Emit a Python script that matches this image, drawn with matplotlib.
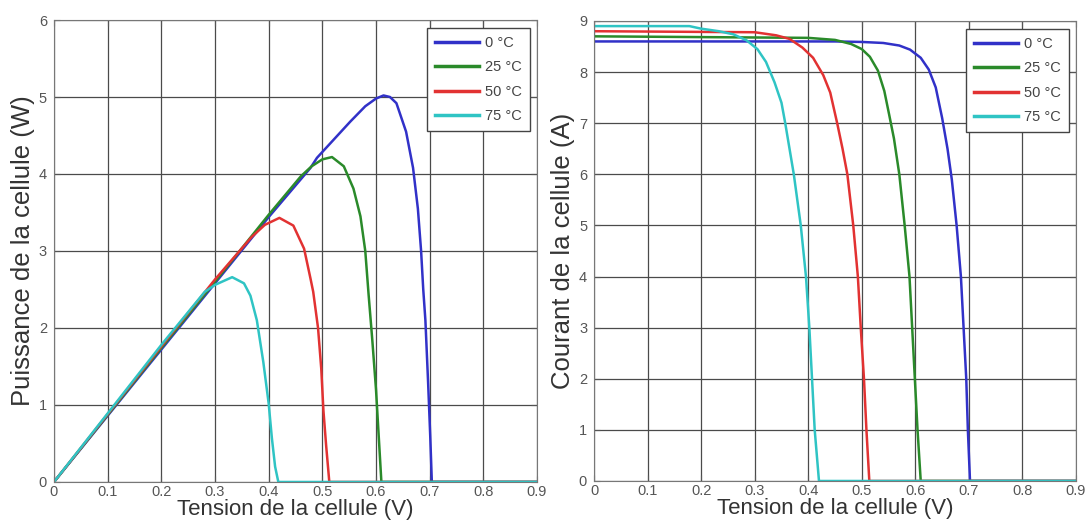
import matplotlib
matplotlib.use('Agg')
import matplotlib.pyplot as plt

plt.rcParams['font.family'] = ['Liberation Sans', 'DejaVu Sans']

# Légende / couleurs
temperatures = ['0 °C', '25 °C', '50 °C', '75 °C']
couleurs = ['#3131c8', '#2a8a2a', '#e23232', '#2fc4c4']

v_p_0 = [0, 0.1, 0.2, 0.3, 0.4, 0.478, 0.49, 0.552, 0.58, 0.6, 0.614, 0.626, 0.638,
         0.656, 0.669, 0.678, 0.684, 0.688, 0.692, 0.697, 0.701, 0.704, 0.9]
p_0 = [0, 0.86, 1.72, 2.58, 3.44, 4.08, 4.21, 4.68, 4.88, 4.98, 5.02, 5.0, 4.92,
       4.55, 4.08, 3.55, 3.0, 2.5, 2.1, 1.3, 0.6, 0, 0]

v_p_25 = [0, 0.1, 0.2, 0.3, 0.4, 0.46, 0.48, 0.5, 0.518, 0.54, 0.558, 0.571, 0.58,
          0.586, 0.593, 0.6, 0.605, 0.61, 0.9]
p_25 = [0, 0.87, 1.74, 2.6, 3.47, 3.97, 4.1, 4.19, 4.22, 4.1, 3.81, 3.45, 3.0,
        2.45, 1.85, 1.2, 0.6, 0, 0]

v_p_50 = [0, 0.1, 0.2, 0.3, 0.368, 0.393, 0.42, 0.446, 0.466, 0.478, 0.483, 0.492,
          0.498, 0.502, 0.507, 0.513, 0.9]
p_50 = [0, 0.88, 1.76, 2.63, 3.18, 3.34, 3.43, 3.33, 3.03, 2.64, 2.47, 2.0,
        1.47, 0.93, 0.48, 0, 0]

v_p_75 = [0, 0.1, 0.2, 0.281, 0.3, 0.332, 0.354, 0.366, 0.378, 0.39, 0.4, 0.406,
          0.412, 0.418, 0.9]
p_75 = [0, 0.89, 1.78, 2.47, 2.56, 2.66, 2.58, 2.42, 2.1, 1.56, 1.02, 0.57,
        0.2, 0, 0]

v_i_0 = [0, 0.45, 0.5, 0.54, 0.57, 0.59, 0.61, 0.625, 0.638, 0.65, 0.66, 0.668,
         0.677, 0.685, 0.69, 0.695, 0.698, 0.702, 0.9]
i_0 = [8.6, 8.6, 8.59, 8.57, 8.52, 8.44, 8.28, 8.05, 7.7, 7.1, 6.5, 5.9,
       5.0, 4.0, 3.0, 2.0, 1.0, 0, 0]

v_i_25 = [0, 0.4, 0.45, 0.48, 0.5, 0.515, 0.53, 0.542, 0.551, 0.56, 0.57, 0.58,
          0.589, 0.594, 0.599, 0.604, 0.61, 0.9]
i_25 = [8.7, 8.67, 8.63, 8.55, 8.45, 8.3, 8.03, 7.63, 7.17, 6.7, 6.0, 5.0,
        4.0, 3.0, 2.0, 1.0, 0, 0]

v_i_50 = [0, 0.3, 0.34, 0.365, 0.389, 0.409, 0.428, 0.441, 0.454, 0.464, 0.473,
          0.484, 0.4926, 0.498, 0.504, 0.5086, 0.514, 0.9]
i_50 = [8.8, 8.78, 8.72, 8.65, 8.48, 8.28, 7.94, 7.6, 7.0, 6.5, 6.0,
        5.0, 4.0, 3.0, 2.0, 1.0, 0, 0]

v_i_75 = [0, 0.178, 0.2, 0.233, 0.26, 0.285, 0.305, 0.321, 0.337, 0.35, 0.357,
          0.373, 0.386, 0.3957, 0.402, 0.407, 0.412, 0.42, 0.9]
i_75 = [8.9, 8.9, 8.85, 8.8, 8.74, 8.62, 8.45, 8.2, 7.8, 7.4, 7.0,
        6.0, 5.0, 4.0, 3.0, 2.0, 1.0, 0, 0]

courbes_p = [(v_p_0, p_0), (v_p_25, p_25), (v_p_50, p_50), (v_p_75, p_75)]
courbes_i = [(v_i_0, i_0), (v_i_25, i_25), (v_i_50, i_50), (v_i_75, i_75)]

x_ticks = [0, 0.1, 0.2, 0.3, 0.4, 0.5, 0.6, 0.7, 0.8, 0.9]
x_labels = ['0', '0.1', '0.2', '0.3', '0.4', '0.5', '0.6', '0.7', '0.8', '0.9']

fig = plt.figure(figsize=(10.9, 5.21), dpi=100)
ax1 = fig.add_axes([0.0495, 0.0749, 0.4432, 0.8867])
ax2 = fig.add_axes([0.545, 0.0768, 0.4422, 0.8829])


def style_axe(ax, ymax, ylabel):
    ax.set_xlim(0, 0.9)
    ax.set_ylim(0, ymax)
    ax.set_xticks(x_ticks)
    ax.set_xticklabels(x_labels)
    ax.set_yticks(range(0, ymax + 1))
    ax.grid(True, color='#4a4a4a', linewidth=0.9)
    ax.set_axisbelow(True)
    ax.tick_params(direction='in', top=True, right=True, length=4,
                   labelsize=10.5, labelcolor='#555555', color='#555555')
    ax.tick_params(axis='x', pad=2)
    ax.tick_params(axis='y', pad=5)
    for s in ax.spines.values():
        s.set_color('#777777')
    ax.set_xlabel('Tension de la cellule (V)', fontsize=16, color='#333333', labelpad=0)
    ax.set_ylabel(ylabel, fontsize=18.5, color='#333333', labelpad=3)


for (v, p), c, t in zip(courbes_p, couleurs, temperatures):
    ax1.plot(v, p, color=c, linewidth=1.8, label=t)
for (v, i), c, t in zip(courbes_i, couleurs, temperatures):
    ax2.plot(v, i, color=c, linewidth=1.8, label=t)

style_axe(ax1, 6, 'Puissance de la cellule (W)')
style_axe(ax2, 9, 'Courant de la cellule (A)')

for ax in (ax1, ax2):
    leg = ax.legend(loc='upper right', bbox_to_anchor=(0.986, 0.983), fontsize=10.5,
                    handlelength=3.0, handletextpad=0.45, labelspacing=0.72,
                    borderpad=0.55, borderaxespad=0, fancybox=False, framealpha=1,
                    edgecolor='#444444', labelcolor='#444444')
    leg.get_frame().set_linewidth(1.0)
    for line in leg.get_lines():
        line.set_linewidth(2.5)

fig.savefig('out.png', dpi=100)
